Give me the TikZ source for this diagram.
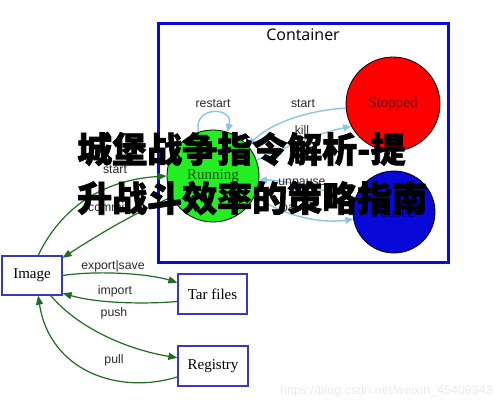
\documentclass[tikz,border=0pt]{standalone}
\usepackage{fontspec}
\setmainfont{Liberation Serif}
\newfontfamily\labfont{Liberation Sans}
\newfontfamily\titlefont{Open Sans}
\newfontfamily\cjkfont[FakeBold=2, BoldFeatures={FakeBold=2}]{Noto Sans CJK SC}
\usetikzlibrary{arrows.meta}
\definecolor{skyedge}{HTML}{8CC4E6}
\definecolor{grnedge}{HTML}{226B22}
\definecolor{boxblue}{HTML}{3A3AB8}
\definecolor{contblue}{HTML}{0A0AD2}
\definecolor{runfill}{HTML}{22EE22}
\definecolor{stopfill}{HTML}{FF0000}
\definecolor{pausefill}{HTML}{0808D8}
\definecolor{labgray}{HTML}{2A2A2A}
\tikzset{
  statenode/.style={circle, draw=black, line width=0.8pt, inner sep=0pt,
    font=\fontsize{15}{17}\selectfont},
  filebox/.style={draw=boxblue, line width=1.2pt, fill=white, inner sep=0pt,
    font=\fontsize{15}{17}\selectfont},
  skyline/.style={draw=skyedge, line width=1.4pt, -{Triangle[length=8pt,width=7pt]}},
  grnline/.style={draw=grnedge, line width=1.2pt, -{Triangle[length=9pt,width=7pt]}},
  edgelab/.style={text=labgray, inner sep=0pt, font=\labfont\fontsize{12.3}{14}\selectfont},
  overlay text/.style={anchor=west, inner sep=0pt, text=black,
    font=\cjkfont\bfseries\fontsize{35}{35}\selectfont}
}
\begin{document}
\begin{tikzpicture}[x=1pt,y=-1pt]
\useasboundingbox (0,0) rectangle (499,405);
\fill[white] (0,0) rectangle (499,405);

% container
\node[draw=contblue, line width=3pt, minimum width=290pt, minimum height=239pt, inner sep=0pt] (cont) at (303,142.5) {};
\node[inner sep=0pt, font=\titlefont\fontsize{16}{18}\selectfont] (conttitle) at (303,35) {Container};

% states
\node[statenode, fill=runfill, minimum size=92pt, text={rgb,255:red,10;green,90;blue,10}] (run) at (213,176) {Running};
\node[statenode, fill=stopfill, minimum size=94pt, text={rgb,255:red,120;green,0;blue,0}] (stop) at (393,104) {Stopped};
\node[statenode, fill=pausefill, minimum size=82pt, text={rgb,255:red,0;green,0;blue,90}] (pause) at (394,212) {Paused};

% file boxes
\node[filebox, minimum width=60pt, minimum height=39pt] (img) at (32,275.5) {Image};
\node[filebox, minimum width=69pt, minimum height=40pt] (tar) at (212.5,294) {Tar files};
\node[filebox, minimum width=70pt, minimum height=40pt] (reg) at (213,366) {Registry};

% container transitions
\draw[skyline] (run.108) .. controls (192,106) and (234,106) .. (run.72);
\draw[skyline] (stop.185) .. controls (310,110) and (272,122) .. (run.41);
\draw[skyline] (run.20) .. controls (285,148) and (315,134) .. (stop.208);
\draw[skyline] (pause.160) .. controls (320,190) and (285,180) .. (run.-5);
\draw[skyline] (run.-25) .. controls (280,215) and (320,224) .. (pause.190);

\node[edgelab] (lrestart) at (213,104) {restart};
\node[edgelab] (lstart1) at (303,104) {start};
\node[edgelab] (lkill) at (302,130) {kill};
\node[edgelab] (lunpause) at (302,183) {unpause};
\node[edgelab] (lpause) at (298,209) {pause};

% image transitions
\draw[grnline] (img.73) .. controls (60,210) and (100,180) .. (run.180);
\draw[grnline] (run.207) .. controls (130,215) and (90,240) .. (img.30);
\draw[grnline] (img.east) .. controls (100,270) and (150,274) .. (tar.162);
\draw[grnline] (tar.192) .. controls (150,304) and (100,304) .. (img.-30);
\draw[grnline] (img.-47) .. controls (80,330) and (130,350) .. (reg.167);
\draw[grnline] (reg.197) .. controls (120,395) and (50,372) .. (img.-73);

\node[edgelab] (lstart2) at (115,170) {start};
\node[edgelab] (lcommit) at (108,207) {commit};
\node[edgelab] (lexport) at (113,266) {export|save};
\node[edgelab] (limport) at (115,291) {import};
\node[edgelab] (lpush) at (114,313) {push};
\node[edgelab] (lpull) at (114,360) {pull};

% overlay title
\node[overlay text] (ov1) at (77,149) {城堡战争指令解析-提};
\node[overlay text] (ov2) at (77,198) {升战斗效率的策略指南};

% watermark
\node[anchor=east, inner sep=0pt, text=black!8, font=\labfont\fontsize{12.5}{14}\selectfont] (wm) at (493,391) {https://blog.csdn.net/weixin\_45409343};
\end{tikzpicture}
\end{document}
